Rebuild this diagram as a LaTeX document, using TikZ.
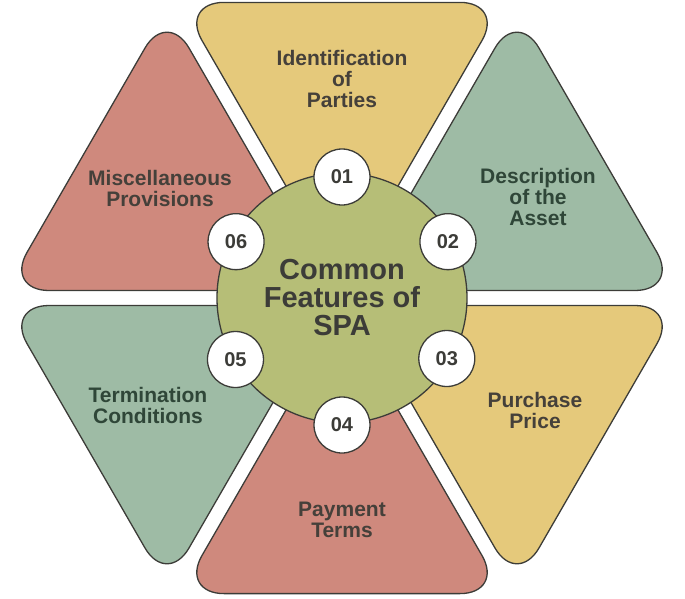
\documentclass[tikz,border=0pt]{standalone}
\usepackage{fontspec}
\setmainfont{Liberation Sans}
\usepackage{xcolor}
\usepackage{tikz}

\definecolor{ochre}{HTML}{E5C97B}
\definecolor{sage}{HTML}{9EBBA5}
\definecolor{rose}{HTML}{CF897D}
\definecolor{hubfill}{HTML}{B6BE77}
\definecolor{ink}{HTML}{3C3C38}
\definecolor{inkwarm}{HTML}{45403A}
\definecolor{inkgreen}{HTML}{2F4638}

\begin{document}
\begin{tikzpicture}[
  x=1pt, y=1pt,
  petal/.style={draw=ink, line width=1.3pt, rounded corners=44pt},
  hub/.style={circle, draw=ink, line width=1.3pt, fill=hubfill, minimum size=250pt, inner sep=0pt, align=center, text=ink, font=\bfseries\fontsize{29}{28}\selectfont},
  badge/.style={circle, draw=ink, line width=1.3pt, fill=white, minimum size=56pt, inner sep=0pt, text=ink, font=\bfseries\fontsize{20}{20}\selectfont},
  lbl/.style={align=center, inner sep=0pt, font=\bfseries\fontsize{21}{21}\selectfont}]

\useasboundingbox (-342,-300) rectangle (343,298);

% Petals: six rounded triangles, apex towards the centre
\filldraw[petal, fill=ochre] (90:15) -- ++(60:324) -- ++(180:324) -- cycle;
\filldraw[petal, fill=sage] (30:15) -- ++(0:324) -- ++(120:324) -- cycle;
\filldraw[petal, fill=ochre] (-30:15) -- ++(-60:324) -- ++(60:324) -- cycle;
\filldraw[petal, fill=rose] (-90:15) -- ++(-120:324) -- ++(0:324) -- cycle;
\filldraw[petal, fill=sage] (-150:15) -- ++(-180:324) -- ++(-60:324) -- cycle;
\filldraw[petal, fill=rose] (150:15) -- ++(120:324) -- ++(-120:324) -- cycle;

% Petal texts
\node[lbl, text=inkwarm] (ident) at (0,219) {Identification\\of\\Parties};
\node[lbl, text=inkgreen] (desc) at (196,101) {Description\\of the\\Asset};
\node[lbl, text=inkwarm] (price) at (193,-112) {Purchase\\Price};
\node[lbl, text=inkwarm] (pay) at (0,-222) {Payment\\Terms};
\node[lbl, text=inkgreen] (term) at (-194,-107) {Termination\\Conditions};
\node[lbl, text=inkwarm] (misc) at (-182,110) {Miscellaneous\\Provisions};

% Centre
\node[hub] (spa) at (0,0) {Common\\Features of\\SPA};

% Numbers round the centre
\node[badge] (b01) at (90:121) {01};
\node[badge] (b02) at (28:120) {02};
\node[badge] (b03) at (-30:121) {03};
\node[badge] (b04) at (-90:127) {04};
\node[badge] (b05) at (-150:123) {05};
\node[badge] (b06) at (152:120) {06};
\end{tikzpicture}
\end{document}
